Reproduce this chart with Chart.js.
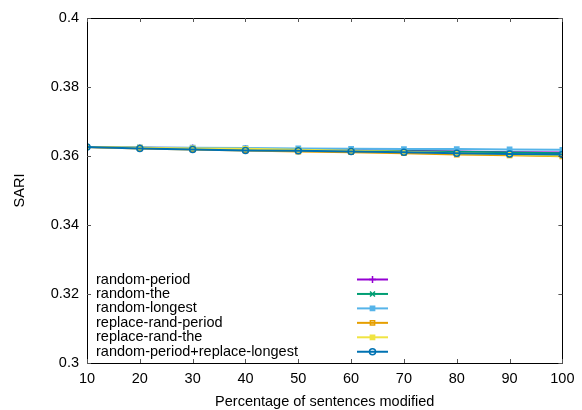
<!DOCTYPE html>
<html>
<head>
<meta charset="utf-8">
<script src="https://cdn.jsdelivr.net/npm/chart.js@4/dist/chart.umd.min.js"></script>
<style>
  html, body { margin: 0; padding: 0; background: #fff; }
  #wrap { width: 582px; height: 410px; position: relative; }
</style>
</head>
<body>
<div id="wrap"><canvas id="c" width="582" height="410"></canvas></div>
<script>
const xValues = [10, 20, 30, 40, 50, 60, 70, 80, 90, 100];
const yTickLabels = ['0.3', '0.32', '0.34', '0.36', '0.38', '0.4'];
const seriesNames = ['random-period', 'random-the', 'random-longest', 'replace-rand-period', 'replace-rand-the', 'random-period+replace-longest'];
const randomPeriod = [0.3626, 0.3624, 0.3623, 0.3621, 0.3619, 0.3617, 0.3615, 0.3613, 0.3611, 0.3610];
const randomThe = [0.3626, 0.3624, 0.3622, 0.3620, 0.3618, 0.3616, 0.3614, 0.3612, 0.3610, 0.3608];
const randomLongest = [0.3626, 0.3625, 0.3624, 0.3623, 0.3622, 0.3621, 0.3620, 0.3620, 0.3619, 0.3618];
const replaceRandPeriod = [0.3626, 0.3622, 0.3619, 0.3616, 0.3613, 0.3611, 0.3608, 0.3604, 0.3602, 0.3599];
const replaceRandThe = [0.3626, 0.3624, 0.3622, 0.3621, 0.3618, 0.3615, 0.3612, 0.3608, 0.3605, 0.3601];
const randomPeriodReplaceLongest = [0.3626, 0.3622, 0.3619, 0.3616, 0.3615, 0.3613, 0.3611, 0.3608, 0.3606, 0.3604];

const seriesValues = [randomPeriod, randomThe, randomLongest, replaceRandPeriod, replaceRandThe, randomPeriodReplaceLongest];
const colors = ['#9400d3', '#009e73', '#56b4e9', '#e69f00', '#f0e442', '#0072b2'];
const pointStyles = ['cross', 'crossRot', 'rect', 'rect', 'rect', 'circle'];
const pointFills = ['#9400d3', '#009e73', '#56b4e9', 'rgba(255,255,255,0)', '#f0e442', 'rgba(255,255,255,0)'];
const pointRadii = [3.5, 3.5, 3, 3, 3, 3];

const FONT = 'Liberation Sans, Arial, Helvetica, sans-serif';
const FS = 14.5;

const datasets = seriesValues.map((vals, i) => ({
  label: seriesNames[i],
  data: xValues.map((x, j) => ({ x: x, y: vals[j] })),
  borderColor: colors[i],
  backgroundColor: pointFills[i],
  pointBorderColor: colors[i],
  pointBackgroundColor: pointFills[i],
  pointStyle: pointStyles[i],
  pointRadius: pointRadii[i],
  pointBorderWidth: 1.5,
  borderWidth: 2,
  tension: 0,
  fill: false,
  order: seriesValues.length - 1 - i
}));

const frameAndLegend = {
  id: 'frameAndLegend',
  afterDraw(chart) {
    const ctx = chart.ctx;
    const a = chart.chartArea;
    const xs = chart.scales.x, ys = chart.scales.y;
    ctx.save();
    ctx.strokeStyle = '#000';
    ctx.lineWidth = 1;
    ctx.beginPath();
    ctx.rect(Math.round(a.left) + 0.5, Math.round(a.top) + 0.5, Math.round(a.right - a.left), Math.round(a.bottom - a.top));
    ctx.stroke();
    // inward ticks
    ctx.strokeStyle = '#555';
    const tl = 4;
    ctx.beginPath();
    xValues.forEach(v => {
      const px = Math.round(xs.getPixelForValue(v)) + 0.5;
      ctx.moveTo(px, a.bottom); ctx.lineTo(px, a.bottom - tl);
      ctx.moveTo(px, a.top); ctx.lineTo(px, a.top + tl);
    });
    yTickLabels.forEach(t => {
      const py = Math.round(ys.getPixelForValue(parseFloat(t))) + 0.5;
      ctx.moveTo(a.left, py); ctx.lineTo(a.left + tl, py);
      ctx.moveTo(a.right, py); ctx.lineTo(a.right - tl, py);
    });
    ctx.stroke();
    // legend
    ctx.font = FS + 'px ' + FONT;
    ctx.textBaseline = 'middle';
    ctx.textAlign = 'left';
    seriesNames.forEach((name, i) => {
      const y = 279.5 + 14.45 * i;
      ctx.fillStyle = '#000';
      ctx.fillText(name, 96, y);
      ctx.strokeStyle = colors[i];
      ctx.lineWidth = 2;
      ctx.beginPath();
      ctx.moveTo(357, y); ctx.lineTo(388, y);
      ctx.stroke();
      ctx.fillStyle = pointFills[i];
      ctx.strokeStyle = colors[i];
      ctx.lineWidth = 1.5;
      Chart.helpers.drawPoint(ctx, { pointStyle: pointStyles[i], radius: pointRadii[i], borderWidth: 1.5, rotation: 0 }, 372.5, y);
    });
    ctx.restore();
  }
};

new Chart(document.getElementById('c'), {
  type: 'line',
  data: { datasets: datasets },
  options: {
    responsive: false,
    animation: false,
    devicePixelRatio: 1,
    layout: { padding: { left: 0, right: 19, top: 18, bottom: 0 } },
    plugins: { legend: { display: false }, tooltip: { enabled: false } },
    scales: {
      x: {
        type: 'linear',
        min: 10, max: 100,
        afterFit(scale) { scale.height = 47; },
        afterBuildTicks(scale) { scale.ticks = xValues.map(v => ({ value: v })); },
        ticks: { color: '#000', font: { family: FONT, size: FS }, padding: 7.5, maxRotation: 0, autoSkip: false,
          callback: v => String(v) },
        grid: { display: false, drawTicks: false },
        border: { display: false },
        title: { display: true, text: 'Percentage of sentences modified', color: '#000',
          font: { family: FONT, size: FS }, padding: { top: 0, bottom: -0.5 } }
      },
      y: {
        type: 'linear',
        min: 0.3, max: 0.4,
        afterFit(scale) { scale.width = 87; },
        afterBuildTicks(scale) { scale.ticks = yTickLabels.map(t => ({ value: parseFloat(t) })); },
        ticks: { color: '#000', font: { family: FONT, size: FS }, padding: 8, autoSkip: false,
          callback: (v, i) => yTickLabels[i] },
        grid: { display: false, drawTicks: false },
        border: { display: false },
        title: { display: true, text: 'SARI', color: '#000',
          font: { family: FONT, size: FS }, padding: { top: 11.5, bottom: 0 } }
      }
    }
  },
  plugins: [frameAndLegend]
});
</script>
</body>
</html>
